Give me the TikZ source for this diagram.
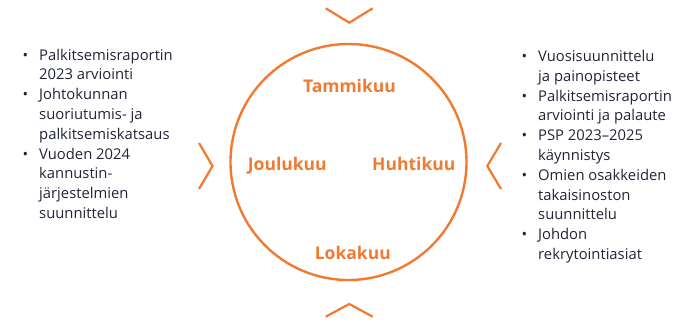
\documentclass[tikz,border=0pt]{standalone}
\usepackage{fontspec}
\setmainfont{Open Sans}
\definecolor{kelta}{RGB}{242,122,48}
\definecolor{teksti}{RGB}{32,36,56}
\newcommand{\kohta}{\makebox[16.5pt][l]{\textbullet}}
\newcommand{\jatko}{\hspace*{16.5pt}}
\begin{document}
\begin{tikzpicture}[x=1pt, y=-1pt,
    kuu/.style={font=\fontsize{17.5}{20}\selectfont\bfseries, text=kelta, inner sep=0pt, anchor=base},
    lista/.style={font=\fontsize{14.8}{19.8}\selectfont, text=teksti, align=left, inner sep=0pt, anchor=base west},
    nuoli/.style={draw=kelta, line width=2.2pt}]

  \useasboundingbox (0,0) rectangle (693,321);

  % --- vuosikello ---
  \node[circle, draw=kelta, line width=2.4pt, minimum size=236pt, inner sep=0pt] (kello) at (348.5,162) {};

  \node[kuu] (tammi) at (349.5,92.3) {Tammikuu};
  \node[kuu] (joulu) at (287.3,170) {Joulukuu};
  \node[kuu] (huhti) at (413.8,170) {Huhtikuu};
  \node[kuu] (loka)  at (352.8,259) {Lokakuu};

  % --- nuolet ---
  \draw[nuoli] (325.7,8.3) -- (349.3,22.7) -- (372.7,8.3);
  \draw[nuoli] (325.7,316.7) -- (349.3,304) -- (372.7,316.7);
  \draw[nuoli] (199,143) -- (212.5,166) -- (199,189);
  \draw[nuoli] (501,143) -- (487.3,166) -- (501,189);

  % --- listat (ankkurina viimeisen rivin perusviiva) ---
  \node[lista] (vasen) at (22.5,218.4) {%
    \kohta Palkitsemisraportin\\ \jatko 2023 arviointi\\
    \kohta Johtokunnan\\ \jatko suoriutumis- ja\\ \jatko palkitsemiskatsaus\\
    \kohta Vuoden 2024\\ \jatko kannustin-\\ \jatko järjestelmien\\ \jatko suunnittelu};

  \node[lista] (oikea) at (521.5,259.5) {%
    \kohta Vuosisuunnittelu\\ \jatko ja painopisteet\\
    \kohta Palkitsemisraportin\\ \jatko arviointi ja palaute\\
    \kohta PSP 2023–2025\\ \jatko käynnistys\\
    \kohta Omien osakkeiden\\ \jatko takaisinoston\\ \jatko suunnittelu\\
    \kohta Johdon\\ \jatko rekrytointiasiat};

\end{tikzpicture}
\end{document}
